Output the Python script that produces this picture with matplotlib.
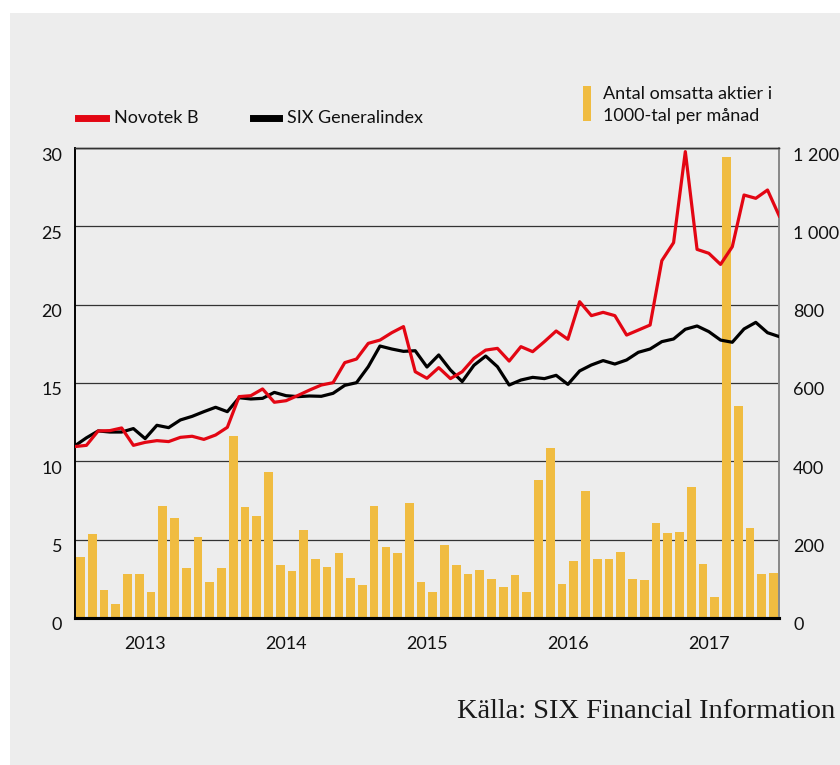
import matplotlib.pyplot as plt
from matplotlib.patches import Rectangle
from matplotlib.lines import Line2D
from matplotlib.transforms import ScaledTranslation

plt.rcParams['font.family'] = ['Lato', 'DejaVu Sans']

# monthly turnover, thousands of shares (Jan 2013 - Dec 2017)
volume = [155, 214, 71, 36, 112, 112, 67, 286, 255, 128, 206, 92,
          128, 465, 283, 260, 374, 135, 120, 225, 151, 130, 166, 102,
          84, 286, 181, 165, 293, 92, 66, 186, 134, 112, 123, 99,
          80, 110, 66, 352, 434, 87, 146, 324, 151, 150, 168, 100,
          97, 243, 217, 220, 335, 137, 54, 1176, 541, 231, 112, 115]

# month-end prices (Dec 2012 - Dec 2017)
novotek = [10.94, 11.02, 11.94, 11.96, 12.13, 11.02, 11.21, 11.32, 11.26, 11.53, 11.60, 11.40,
           11.68, 12.17, 14.13, 14.19, 14.62, 13.77, 13.87, 14.20, 14.55, 14.87, 15.02, 16.30,
           16.53, 17.53, 17.74, 18.21, 18.60, 15.72, 15.30, 15.98, 15.28, 15.72, 16.57, 17.10,
           17.21, 16.40, 17.32, 17.00, 17.64, 18.32, 17.79, 20.19, 19.30, 19.51, 19.30, 18.06,
           18.38, 18.70, 22.81, 23.96, 29.77, 23.53, 23.28, 22.57, 23.70, 27.00, 26.79, 27.32,
           25.66]
six_index = [10.98, 11.50, 11.94, 11.87, 11.87, 12.09, 11.45, 12.30, 12.15, 12.64, 12.87, 13.17,
             13.45, 13.17, 14.06, 13.98, 14.02, 14.40, 14.19, 14.13, 14.17, 14.15, 14.34, 14.85,
             15.02, 16.04, 17.36, 17.17, 17.02, 17.06, 16.02, 16.79, 15.83, 15.09, 16.13, 16.72,
             16.04, 14.87, 15.19, 15.36, 15.28, 15.49, 14.91, 15.77, 16.15, 16.43, 16.21, 16.47,
             16.96, 17.17, 17.64, 17.81, 18.43, 18.64, 18.28, 17.74, 17.60, 18.45, 18.87, 18.21,
             17.96]
years = ['2013', '2014', '2015', '2016', '2017']

fig = plt.figure(figsize=(8.4, 7.65), dpi=100)
fig.patches.append(Rectangle((10 / 840, 0), 1, 1 - 13 / 765, transform=fig.transFigure,
                             facecolor='#ededed', edgecolor='none', zorder=-10))

ax = fig.add_axes([0.0889, 0.1922, 0.8388, 0.6143])
ax.set_facecolor('none')
ax.bar([i + 0.5 for i in range(len(volume))], volume, width=0.74, color='#f0bc41', zorder=2)
ax.set_ylim(0, 1200)
ax.set_xlim(0, 60)
ax.set_yticks(range(0, 1201, 200))
ax.set_yticklabels(['0', '200', '400', '600', '800', '1 000', '1 200'])
ax.grid(axis='y', color='#333333', linewidth=0.9)
ax.set_axisbelow(True)
ax.set_xticks([6 + 12 * k for k in range(len(years))])
ax.set_xticklabels(years)

ax2 = ax.twinx()
ax2.plot(range(len(six_index)), six_index, color='black', linewidth=2.3, zorder=3)
ax2.plot(range(len(novotek)), novotek, color='#e30613', linewidth=2.3, zorder=4)
ax2.set_ylim(0, 30)
ax2.set_yticks(range(0, 31, 5))

# swap sides: volume scale on the right, price scale on the left
ax.yaxis.tick_right()
ax2.yaxis.tick_left()
ax.tick_params(length=0, labelsize=13, colors='#111111')
ax.tick_params(axis='x', pad=13)
ax.tick_params(axis='y', pad=10)
ax2.tick_params(length=0, labelsize=13, colors='#111111', pad=9)

# labels sit a little below their gridlines
down = ScaledTranslation(0, -6 / 100, fig.dpi_scale_trans)
for lbl in ax.get_yticklabels() + ax2.get_yticklabels():
    lbl.set_transform(lbl.get_transform() + down)

for a in (ax, ax2):
    a.spines['left'].set_color('black')
    a.spines['left'].set_linewidth(1.2)
    a.spines['bottom'].set_color('black')
    a.spines['bottom'].set_linewidth(2.2)
    a.spines['top'].set_color('#333333')
    a.spines['top'].set_linewidth(1.0)
    a.spines['right'].set_color('#888888')
    a.spines['right'].set_linewidth(1.2)

# legend
fig.add_artist(Line2D([78 / 840, 106 / 840], [1 - 118 / 765] * 2, color='#e30613', linewidth=5,
                      transform=fig.transFigure))
fig.text(114 / 840, 1 - 118 / 765, 'Novotek B', fontsize=13, va='center', color='#111111')
fig.add_artist(Line2D([253 / 840, 279 / 840], [1 - 118 / 765] * 2, color='black', linewidth=5,
                      transform=fig.transFigure))
fig.text(287 / 840, 1 - 118 / 765, 'SIX Generalindex', fontsize=13, va='center', color='#111111')
fig.patches.append(Rectangle((583 / 840, 1 - 121 / 765), 8 / 840, 35 / 765, transform=fig.transFigure,
                             facecolor='#f0bc41', edgecolor='none'))
fig.text(603 / 840, 1 - 94 / 765, 'Antal omsatta aktier i', fontsize=13, va='center', color='#111111')
fig.text(603 / 840, 1 - 116 / 765, '1000-tal per månad', fontsize=13, va='center', color='#111111')

fig.text(835 / 840, 1 - 712 / 765, 'Källa: SIX Financial Information', fontsize=20.5, ha='right',
         va='center', family='Liberation Serif', color='#1a1a1a')

fig.savefig('out.png', dpi=100)
